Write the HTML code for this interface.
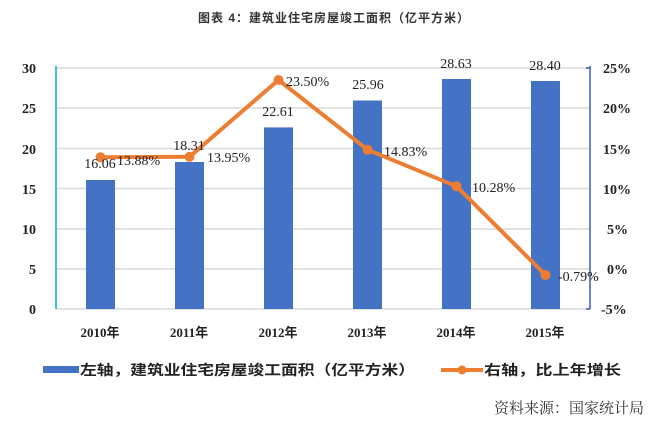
<!DOCTYPE html>
<html><head><meta charset="utf-8"><style>
html,body{margin:0;padding:0;background:#fff;}
svg{display:block;}
</style></head><body>
<svg width="669" height="422" viewBox="0 0 669 422" xmlns="http://www.w3.org/2000/svg">
<text x="334" y="22" text-anchor="middle" font-family="Liberation Sans, Noto Sans CJK SC, sans-serif" font-size="12" font-weight="bold" fill="#333" letter-spacing="1">图表 4：建筑业住宅房屋竣工面积（亿平方米）</text>
<g stroke="#d9d9d9" stroke-width="1.5">
<line x1="56" y1="68" x2="590" y2="68"/><line x1="56" y1="108" x2="590" y2="108"/>
<line x1="56" y1="148.5" x2="590" y2="148.5"/><line x1="56" y1="188.5" x2="590" y2="188.5"/>
<line x1="56" y1="229" x2="590" y2="229"/><line x1="56" y1="269" x2="590" y2="269"/>
<line x1="56" y1="309" x2="590" y2="309"/>
</g>
<line x1="56" y1="66" x2="56" y2="309" stroke="#3bbfd6" stroke-width="2"/>
<line x1="590" y1="66" x2="590" y2="309" stroke="#3a62b8" stroke-width="1.5"/>
<g stroke="#3a62b8" stroke-width="1.5">
<line x1="586" y1="68" x2="590" y2="68"/><line x1="586" y1="309" x2="590" y2="309"/>
</g>
<g fill="#4472c4">
<rect x="86" y="180" width="29" height="129"/>
<rect x="175" y="162" width="29" height="147"/>
<rect x="264" y="127.4" width="29" height="181.6"/>
<rect x="353" y="100.5" width="29" height="208.5"/>
<rect x="442" y="79" width="29" height="230"/>
<rect x="531" y="81" width="29" height="228"/>
</g>
<polyline points="100.5,157.3 189.5,156.8 278.5,80 367.5,149.7 456.5,186.3 545.5,275" fill="none" stroke="#ed7d31" stroke-width="4" stroke-linejoin="round"/>
<g fill="#ed7d31">
<circle cx="100.5" cy="157.3" r="5"/><circle cx="189.5" cy="156.8" r="5"/><circle cx="278.5" cy="80" r="5"/>
<circle cx="367.5" cy="149.7" r="5"/><circle cx="456.5" cy="186.3" r="5"/><circle cx="545.5" cy="275" r="5"/>
</g>
<g font-family="Liberation Serif, serif" font-size="14" fill="#222" text-anchor="middle">
<text x="100" y="168">16.06</text><text x="189" y="150">18.31</text><text x="278" y="116">22.61</text>
<text x="368" y="89">25.96</text><text x="456" y="68">28.63</text><text x="545" y="70">28.40</text>
</g>
<g font-family="Liberation Serif, serif" font-size="14" fill="#222">
<text x="117" y="165">13.88%</text><text x="207" y="162">13.95%</text><text x="286" y="86">23.50%</text>
<text x="384" y="156">14.83%</text><text x="472" y="192">10.28%</text><text x="558" y="281">-0.79%</text>
</g>
<g font-family="Liberation Serif, serif" font-size="14" font-weight="bold" fill="#222" text-anchor="end">
<text x="36" y="73">30</text><text x="36" y="113">25</text><text x="36" y="154">20</text>
<text x="36" y="194">15</text><text x="36" y="234">10</text><text x="36" y="274">5</text><text x="36" y="314">0</text>
</g>
<g font-family="Liberation Serif, serif" font-size="14" font-weight="bold" fill="#222">
<text x="603" y="73">25%</text><text x="603" y="113">20%</text><text x="603" y="154">15%</text>
<text x="603" y="194">10%</text><text x="607" y="234">5%</text><text x="607" y="274">0%</text><text x="601" y="314">-5%</text>
</g>
<g font-family="Liberation Serif, Noto Sans CJK SC, serif" font-size="13" font-weight="bold" fill="#222" text-anchor="middle">
<text x="100" y="337">2010年</text><text x="189" y="337">2011年</text><text x="278" y="337">2012年</text>
<text x="367" y="337">2013年</text><text x="456" y="337">2014年</text><text x="545" y="337">2015年</text>
</g>
<rect x="43" y="366" width="36" height="7" fill="#4472c4"/>
<text x="80" y="375" font-family="Liberation Sans, Noto Sans CJK SC, sans-serif" font-size="14" font-weight="bold" fill="#222" textLength="335" lengthAdjust="spacingAndGlyphs">左轴，建筑业住宅房屋竣工面积（亿平方米）</text>
<line x1="441" y1="370" x2="483" y2="370" stroke="#ed7d31" stroke-width="4"/>
<circle cx="462" cy="370" r="4.5" fill="#ed7d31"/>
<text x="484" y="375" font-family="Liberation Sans, Noto Sans CJK SC, sans-serif" font-size="14" font-weight="bold" fill="#222" textLength="137" lengthAdjust="spacingAndGlyphs">右轴，比上年增长</text>
<text x="644" y="413" text-anchor="end" font-family="Liberation Serif, Noto Serif CJK SC, serif" font-size="15" fill="#333">资料来源：国家统计局</text>
</svg>
</body></html>
